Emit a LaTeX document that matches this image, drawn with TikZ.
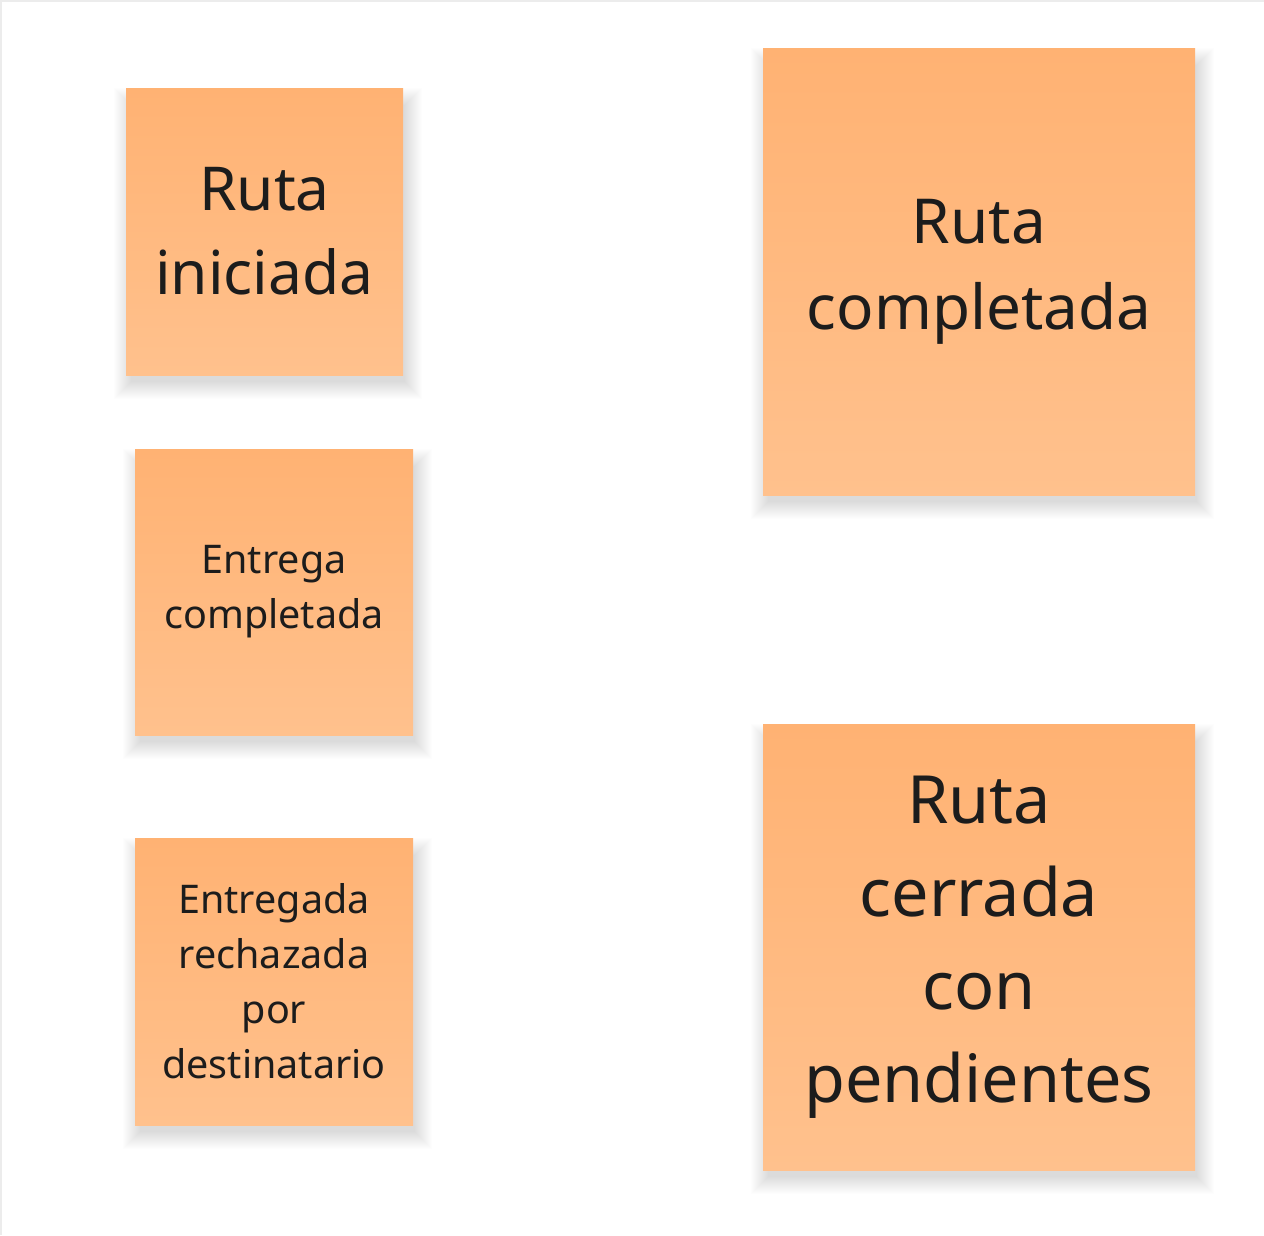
\documentclass[tikz,border=0pt]{standalone}
\usepackage{fontspec}
\setmainfont{Noto Sans}
\usetikzlibrary{calc,backgrounds}
\definecolor{notetop}{RGB}{255,178,115}
\definecolor{notebot}{RGB}{255,193,141}
\definecolor{notetext}{RGB}{28,28,28}
\definecolor{frameline}{RGB}{236,236,236}
\tikzset{
  sticky/.style={rectangle, inner sep=0pt, top color=notetop, bottom color=notebot,
    text=notetext, align=center},
  shadowlayer/.style={fill=black, fill opacity=0.0065, draw=none},
  bigfont/.style={font=\fontsize{62}{86}\selectfont},
  hugefont/.style={font=\fontsize{66.5}{93}\selectfont},
  smallfont/.style={font=\fontsize{39.5}{55}\selectfont},
  inifont/.style={font=\fontsize{60.5}{84}\selectfont}
}
\begin{document}
\begin{tikzpicture}[x=1pt,y=-1pt]
\useasboundingbox (0,0) rectangle (1264,1235);
\node[sticky, inifont, minimum width=277pt, minimum height=287pt] (ini) at (264.5,231.5) {Ruta\\iniciada};
\node[sticky, smallfont, minimum width=278pt, minimum height=286pt] (ent) at (274,592) {Entrega\\completada};
\node[sticky, smallfont, minimum width=278pt, minimum height=287pt] (rech) at (274,981.5) {Entregada\\rechazada\\por\\destinatario};
\node[sticky, bigfont, minimum width=432pt, minimum height=447pt] (comp) at (979,271.5) {Ruta\\completada};
\node[sticky, hugefont, minimum width=432pt, minimum height=446pt] (cerr) at (979,947) {Ruta\\cerrada\\con\\pendientes};
\begin{scope}[on background layer]
\fill[white] (0,0) rectangle (1264,1235);
\draw[frameline, line width=1.5pt] (0.75,1235) -- (0.75,0.75) -- (1264,0.75);
\foreach \n in {ini,ent,rech,comp,cerr}{
  \foreach \i in {1,...,18}{
    \path[shadowlayer] ($(\n.north west)+(6-\i,18-\i)$) rectangle ($(\n.south east)+(1+\i,6+\i)$);
  }
}
\end{scope}
\end{tikzpicture}
\end{document}
